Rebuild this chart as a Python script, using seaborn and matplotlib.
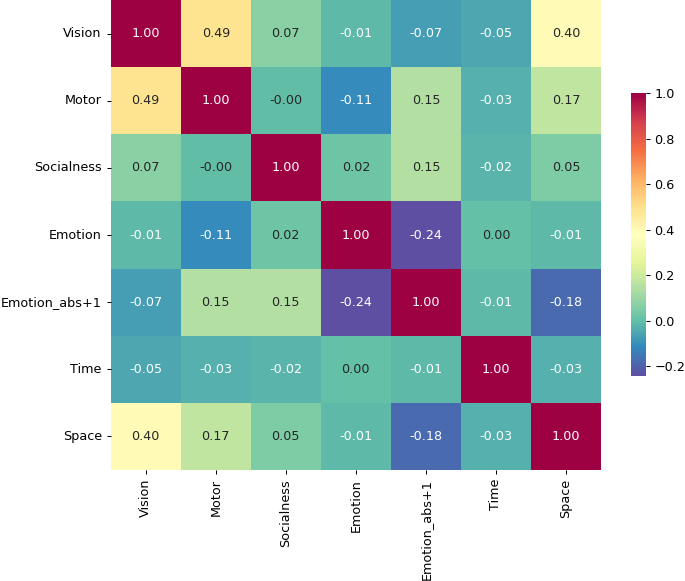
import numpy as np
import pandas as pd
import matplotlib
matplotlib.use("Agg")
import matplotlib.pyplot as plt
import seaborn as sns

labels = ["Vision", "Motor", "Socialness", "Emotion", "Emotion_abs+1", "Time", "Space"]

vision = [1.00, 0.49, 0.07, -0.01, -0.07, -0.05, 0.40]
motor = [0.49, 1.00, -0.004, -0.11, 0.15, -0.03, 0.17]
socialness = [0.07, -0.004, 1.00, 0.02, 0.15, -0.02, 0.05]
emotion = [-0.01, -0.11, 0.02, 1.00, -0.243, 0.00, -0.01]
emotion_abs = [-0.07, 0.15, 0.15, -0.243, 1.00, -0.01, -0.18]
time_ = [-0.05, -0.03, -0.02, 0.00, -0.01, 1.00, -0.03]
space = [0.40, 0.17, 0.05, -0.01, -0.18, -0.03, 1.00]

corr = pd.DataFrame([vision, motor, socialness, emotion, emotion_abs, time_, space],
                    index=labels, columns=labels)

dpi = 92
fig = plt.figure(figsize=(685 / dpi, 581 / dpi), dpi=dpi)
ax = fig.add_axes([0.1616, 0.191, 0.7158, 0.809])
cax = fig.add_axes([0.921, 0.353, 0.0215, 0.4866])
sns.heatmap(corr, annot=True, fmt=".2f", cmap="Spectral_r", ax=ax, cbar_ax=cax)
plt.savefig("out.png", dpi=dpi)
